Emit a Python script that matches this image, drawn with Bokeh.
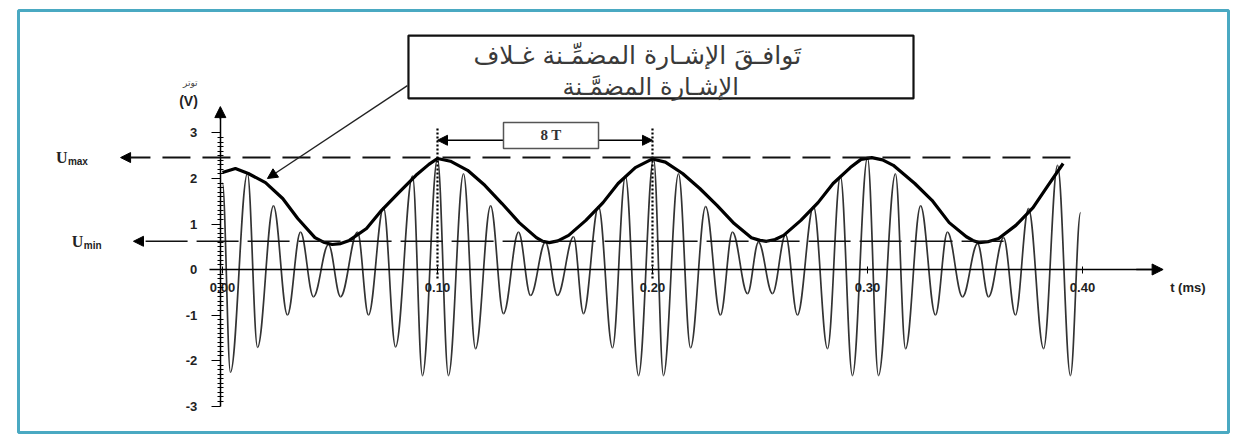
from bokeh.plotting import figure
from bokeh.models import Range1d, FixedTicker, Arrow, NormalHead, BoxAnnotation, Label, ColumnDataSource
from bokeh.embed import file_html
from bokeh.resources import INLINE

# ---------------- data ----------------
x_ticks = [0.0, 0.1, 0.2, 0.3, 0.4]
x_tick_labels = ["0.00", "0.10", "0.20", "0.30", "0.40"]
y_ticks = [-3, -2, -1, 0, 1, 2, 3]
y_tick_labels = ["-3", "-2", "-1", "0", "1", "2", "3"]

u_max = 2.46
u_min = 0.62
period_marks = [0.1, 0.2]

# carrier extremes (alternating peak / trough), t in ms, u in V
carrier_t = [0.0000, 0.0037, 0.0116, 0.0163, 0.0237, 0.0302, 0.0363, 0.0423, 0.0493, 0.0549,
             0.0628, 0.0679, 0.0749, 0.0805, 0.0884, 0.0930, 0.1000, 0.1051, 0.1121, 0.1177,
             0.1247, 0.1307, 0.1377, 0.1433, 0.1502, 0.1558, 0.1633, 0.1679, 0.1749, 0.1814,
             0.1874, 0.1935, 0.2005, 0.2051, 0.2121, 0.2177, 0.2247, 0.2316, 0.2372, 0.2442,
             0.2493, 0.2558, 0.2619, 0.2674, 0.2749, 0.2814, 0.2874, 0.2930, 0.3000, 0.3051,
             0.3130, 0.3177, 0.3247, 0.3316, 0.3372, 0.3442, 0.3512, 0.3563, 0.3633, 0.3688,
             0.3749, 0.3819, 0.3884, 0.3944, 0.3991]
carrier_u = [1.90, -2.26, 2.11, -1.71, 1.40, -1.00, 0.82, -0.60, 0.55, -0.60,
             0.82, -1.00, 1.36, -1.70, 2.05, -2.33, 2.44, -2.33, 2.10, -1.74,
             1.40, -0.97, 0.82, -0.57, 0.60, -0.57, 0.72, -0.97, 1.38, -1.72,
             2.05, -2.33, 2.44, -2.33, 2.10, -1.72, 1.38, -1.00, 0.82, -0.53,
             0.60, -0.53, 0.76, -1.00, 1.38, -1.74, 2.05, -2.33, 2.46, -2.33,
             2.10, -1.74, 1.40, -1.00, 0.82, -0.60, 0.57, -0.60, 0.70, -1.00,
             1.34, -1.74, 2.29, -2.33, 1.25]

# envelope (thick curve)
envelope_t = [0.000, 0.006, 0.012, 0.020, 0.028, 0.035, 0.043, 0.047, 0.051, 0.055, 0.059, 0.067,
              0.074, 0.082, 0.090, 0.096, 0.100, 0.106, 0.114, 0.122, 0.130, 0.138,
              0.146, 0.149, 0.152, 0.156, 0.161, 0.169, 0.177, 0.184, 0.192, 0.200, 0.206, 0.214,
              0.222, 0.230, 0.238, 0.246, 0.250, 0.253, 0.257, 0.261, 0.269, 0.277, 0.284, 0.292,
              0.297, 0.302, 0.307, 0.312, 0.322, 0.330, 0.338, 0.346, 0.349, 0.352, 0.356, 0.361, 0.369,
              0.377, 0.384, 0.391]
envelope_u = [2.13, 2.22, 2.11, 1.91, 1.56, 1.12, 0.70, 0.60, 0.55, 0.57, 0.64, 0.90,
              1.30, 1.69, 2.07, 2.31, 2.44, 2.38, 2.18, 1.85, 1.45, 1.03,
              0.70, 0.62, 0.59, 0.63, 0.75, 1.08, 1.47, 1.89, 2.24, 2.43, 2.36, 2.11,
              1.78, 1.41, 1.01, 0.70, 0.64, 0.62, 0.66, 0.75, 1.08, 1.47, 1.89, 2.24,
              2.42, 2.46, 2.41, 2.29, 1.89, 1.52, 1.03, 0.72, 0.64, 0.59, 0.61, 0.68, 0.97,
              1.36, 1.85, 2.33]

# ---------------- figure ----------------
X0, X1 = -0.09488, 0.46791
Y0, Y1 = -3.582, 5.692

p = figure(width=1231, height=436, output_backend="svg", toolbar_location=None,
           x_range=Range1d(X0, X1), y_range=Range1d(Y0, Y1),
           min_border_left=18, min_border_right=3, min_border_top=10, min_border_bottom=4)
p.background_fill_color = "white"
p.border_fill_color = "white"
p.outline_line_color = "#4aa9c2"
p.outline_line_width = 3
p.grid.visible = False

# axes through the origin
xa = p.xaxis[0]
xa.fixed_location = 0
xa.ticker = FixedTicker(ticks=x_ticks)
xa.major_label_overrides = {t: l for t, l in zip(x_ticks, x_tick_labels)}
xa.bounds = (-0.006, 0.436)
xa.major_tick_out = 4
xa.major_tick_in = 3
xa.minor_tick_line_color = None
xa.major_label_standoff = 9
xa.major_label_text_font = "Liberation Sans"
xa.major_label_text_font_style = "bold"
xa.major_label_text_font_size = "13px"
xa.major_label_text_color = "#222222"
xa.axis_line_width = 1.5

ya = p.yaxis[0]
ya.fixed_location = -0.001
minor = [m / 10 for m in range(-30, 31) if m % 10 != 0]
ya.ticker = FixedTicker(ticks=y_ticks, minor_ticks=minor)
ya.major_label_overrides = {t: l for t, l in zip(y_ticks, y_tick_labels)}
ya.bounds = (-3, 3.5)
ya.major_tick_out = 9
ya.major_tick_in = 0
ya.minor_tick_out = 3
ya.minor_tick_in = 3
ya.major_label_standoff = 14
ya.major_label_text_font = "Liberation Sans"
ya.major_label_text_font_style = "bold"
ya.major_label_text_font_size = "13px"
ya.major_label_text_color = "#222222"
ya.axis_line_width = 1.5

# axis arrow heads
p.add_layout(Arrow(x_start=0.425, y_start=0, x_end=0.4375, y_end=0, line_width=1.5,
                   end=NormalHead(size=11, fill_color="black", line_color="black")))
p.add_layout(Arrow(x_start=-0.001, y_start=3.3, x_end=-0.001, y_end=3.58, line_width=1.5,
                   end=NormalHead(size=11, fill_color="black", line_color="black")))

# U max / U min reference lines
p.add_layout(Arrow(x_start=0.3944, y_start=u_max, x_end=-0.0474, y_end=u_max,
                   line_width=2, line_dash="28 12", line_color="#111111",
                   end=NormalHead(size=10, fill_color="black", line_color="black")))
p.add_layout(Arrow(x_start=0.3633, y_start=u_min, x_end=-0.0414, y_end=u_min,
                   line_width=1.6, line_dash="42 9", line_color="#111111",
                   end=NormalHead(size=10, fill_color="black", line_color="black")))

# carrier drawn as smooth segments between successive extremes
k = 0.3642
xs0, ys0, xs1, ys1, cx0, cy0, cx1, cy1 = [], [], [], [], [], [], [], []
for i in range(len(carrier_t) - 1):
    a, b = carrier_t[i], carrier_t[i + 1]
    xs0.append(a); ys0.append(carrier_u[i]); xs1.append(b); ys1.append(carrier_u[i + 1])
    cx0.append(a + k * (b - a)); cy0.append(carrier_u[i])
    cx1.append(b - k * (b - a)); cy1.append(carrier_u[i + 1])
src = ColumnDataSource(dict(x0=xs0, y0=ys0, x1=xs1, y1=ys1, cx0=cx0, cy0=cy0, cx1=cx1, cy1=cy1))
p.bezier(x0="x0", y0="y0", x1="x1", y1="y1", cx0="cx0", cy0="cy0", cx1="cx1", cy1="cy1",
         source=src, line_color="#333333", line_width=1.7)

# envelope
p.line(envelope_t, envelope_u, line_color="black", line_width=3.2, line_join="round")

# period markers (dotted verticals) and 8T arrow
for tm in period_marks:
    p.segment(x0=[tm], y0=[-0.2], x1=[tm], y1=[3.1], line_color="#000000",
              line_width=2.2, line_dash="2 2")
p.add_layout(Arrow(x_start=period_marks[0], y_start=2.84, x_end=period_marks[1], y_end=2.84,
                   line_width=1.5,
                   start=NormalHead(size=10, fill_color="black", line_color="black"),
                   end=NormalHead(size=10, fill_color="black", line_color="black")))
p.add_layout(BoxAnnotation(left=0.1307, right=0.1749, bottom=2.66, top=3.23,
                           fill_color="white", fill_alpha=1, line_color="#555555",
                           line_alpha=1, line_width=1.5))
p.add_layout(Label(x=0.1528, y=2.945, text="8 T", text_align="center", text_baseline="middle",
                   text_font="Liberation Serif", text_font_style="bold",
                   text_font_size="15px", text_color="#333333"))

# annotation box
p.add_layout(BoxAnnotation(left=0.0865, right=0.3214, bottom=3.76, top=5.14,
                           fill_color="white", fill_alpha=1, line_color="#111111",
                           line_alpha=1, line_width=2.2))
p.add_layout(Label(x=0.2040, y=4.70, text="تَوافـقَ   الإشـارة   المضمِّـنة   غـلاف",
                   text_align="center", text_baseline="middle",
                   text_font="DejaVu Sans", text_font_size="25px", text_color="#3a3a3a"))
p.add_layout(Label(x=0.2045, y=4.02, text="الإشـارة    المضمَّـنة",
                   text_align="center", text_baseline="middle",
                   text_font="DejaVu Sans", text_font_size="24px", text_color="#3a3a3a"))
p.add_layout(Arrow(x_start=0.0860, y_start=4.04, x_end=0.0209, y_end=2.0,
                   line_width=1.4, line_color="#222222",
                   end=NormalHead(size=10, fill_color="black", line_color="black")))

# axis captions
p.add_layout(Label(x=-0.0158, y=3.71, text="(V)", text_align="center", text_baseline="middle",
                   text_font="Liberation Sans", text_font_style="bold",
                   text_font_size="14px", text_color="#222222"))
p.add_layout(Label(x=-0.0150, y=4.09, text="توتر", text_align="center", text_baseline="middle",
                   text_font="DejaVu Sans", text_font_size="9px", text_color="#444444"))
p.add_layout(Label(x=0.449, y=0.0, y_offset=-18, text="t (ms)", text_align="center",
                   text_baseline="middle", text_font="Liberation Sans", text_font_style="bold",
                   text_font_size="13px", text_color="#222222"))

# U max / U min labels
p.add_layout(Label(x=-0.0721, y=u_max, text="U", text_align="right", text_baseline="middle",
                   text_font="Liberation Serif", text_font_style="bold",
                   text_font_size="16px", text_color="#222222"))
p.add_layout(Label(x=-0.0719, y=u_max, y_offset=-4, text="max", text_align="left",
                   text_baseline="middle", text_font="Liberation Sans", text_font_style="bold",
                   text_font_size="10px", text_color="#222222"))
p.add_layout(Label(x=-0.0647, y=u_min, text="U", text_align="right", text_baseline="middle",
                   text_font="Liberation Serif", text_font_style="bold",
                   text_font_size="16px", text_color="#222222"))
p.add_layout(Label(x=-0.0645, y=u_min, y_offset=-4, text="min", text_align="left",
                   text_baseline="middle", text_font="Liberation Sans", text_font_style="bold",
                   text_font_size="10px", text_color="#222222"))

open("out.html", "w").write(file_html(p, INLINE))
